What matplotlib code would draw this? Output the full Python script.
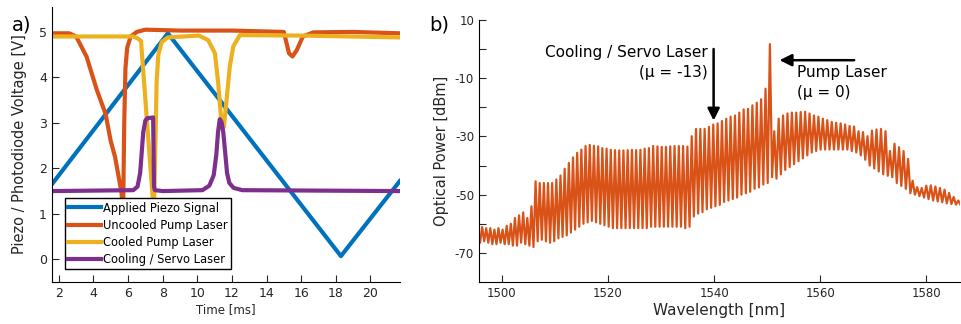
import matplotlib
matplotlib.use('Agg')
import matplotlib.pyplot as plt
import numpy as np

# ---- panel a) traces (time in ms, volts) ----
piezo_t = [1.6, 8.3, 18.3, 21.7]
piezo_v = [1.65, 4.97, 0.07, 1.72]

uncooled_t = [1.6, 2.6, 3.0, 3.6, 4.2, 4.7, 5.0, 5.25, 5.63, 5.69, 5.72, 5.78, 5.85, 5.95,
              6.15, 6.5, 7.0, 9.0, 12.0, 15.0, 15.3, 15.5, 15.75, 16.1, 16.7, 19.0, 21.7]
uncooled_v = [4.97, 4.97, 4.9, 4.46, 3.72, 3.2, 2.6, 2.25, 1.45, 1.0, 1.2, 3.0, 4.2, 4.65,
              4.9, 5.0, 5.05, 5.03, 5.03, 5.0, 4.53, 4.46, 4.6, 4.9, 4.99, 5.0, 4.97]

cooled_t = [1.6, 6.3, 6.55, 6.75, 7.42, 7.5, 7.58, 7.65, 7.75, 7.95, 8.3, 10.1, 10.63,
            11.02, 11.21, 11.4, 11.54, 11.69, 11.88, 12.08, 12.46, 16.0, 21.7]
cooled_v = [4.9, 4.9, 4.86, 4.8, 1.37, 1.2, 2.5, 3.9, 4.5, 4.78, 4.88, 4.92, 4.82,
            4.53, 3.87, 2.99, 2.91, 3.5, 4.24, 4.68, 4.93, 4.92, 4.88]

servo_t = [1.6, 6.3, 6.55, 6.7, 6.8, 6.88, 7.0, 7.1, 7.45, 7.5, 7.55, 8.0, 10.3, 10.7,
           10.95, 11.1, 11.2, 11.3, 11.4, 11.5, 11.6, 11.72, 11.85, 12.1, 12.6, 21.7]
servo_v = [1.5, 1.52, 1.6, 1.9, 2.4, 2.8, 3.05, 3.1, 3.12, 1.6, 1.52, 1.5, 1.52, 1.62,
           1.85, 2.3, 2.8, 3.08, 3.02, 2.8, 2.4, 1.9, 1.68, 1.57, 1.52, 1.5]

trace_labels = ['Applied Piezo Signal', 'Uncooled Pump Laser',
                'Cooled Pump Laser', 'Cooling / Servo Laser']

# ---- panel b) comb spectrum: per-mode peak and floor level (dBm) ----
pump_nm = 1550.5
fsr_thz = 0.103
mu = np.arange(-69, 43)
peak_dbm = [-61, -61.1, -61.5, -61.5, -62, -61.5, -62, -60.7, -60, -58,          # -69..-60
            -57.1, -56.1, -58, -54, -45.4, -46, -46, -46, -46, -44.8,           # -59..-50
            -43.4, -41.1, -39.1, -37.2, -35.6, -34.5, -33.3, -32.9, -33.2, -33.4,  # -49..-40
            -34, -34.2, -34.6, -34.7, -34.8, -34.8, -34.7, -34.6, -34.7, -34.6,  # -39..-30
            -34.2, -34, -33.3, -33.4, -33.6, -33.6, -33.4, -33.3, -33.3, -33.3,  # -29..-20
            -33.5, -29.9, -27.4, -27.4, -27.4, -26.7, -25.9, -25.5, -24.7, -23.9,  # -19..-10
            -23.2, -22.8, -21.8, -20.7, -20.5, -19.3, -18.4, -17.2, -13.6, 1.7,  # -9..0
            -28.2, -23.9, -22.8, -22.1, -21.8, -21.8, -21.6, -21.5, -22.1, -22.8,  # 1..10
            -23.2, -23.9, -24.4, -25, -25.3, -25.5, -25.9, -26.4, -26.6, -28.2,  # 11..20
            -28.5, -29.9, -28, -27.6, -27.4, -28.2, -35, -32.5, -33.7, -35,      # 21..30
            -37.7, -45.2, -47.4, -47.7, -46.9, -46.8, -47.2, -47.7, -48.3, -49.4,  # 31..40
            -50.8, -52]                                                         # 41..42
floor_dbm = [-66.5, -66, -66.5, -67, -67, -66.5, -67, -67, -67.5, -67.5,         # -69..-60
             -66.5, -67, -67.5, -68, -66, -65.5, -66, -66.5, -66, -65,           # -59..-50
             -64.5, -64, -63, -62, -61, -60, -59.5, -59, -59.5, -60,             # -49..-40
             -60.5, -61, -61.5, -61.5, -61.5, -61.5, -61.5, -61.5, -61.5, -61.5,  # -39..-30
             -61.5, -61, -61, -61, -61, -61, -61, -61, -61, -61.5,               # -29..-20
             -61, -57.5, -56.5, -56, -55, -54.5, -54, -53.5, -52.5, -52,         # -19..-10
             -51.5, -51, -50, -49.5, -49, -48, -47.5, -46.5, -46, -44,           # -9..0
             -44.5, -43, -41.5, -40.5, -39.5, -38.5, -37.5, -36.5, -35.5, -35,   # 1..10
             -34.5, -34.5, -34.5, -34.5, -34.5, -34.5, -34.5, -35, -35.5, -36.5,  # 11..20
             -38, -40, -41, -42, -43, -43.5, -44, -46, -47, -48,                 # 21..30
             -49.5, -50, -50.5, -51, -51.5, -52, -52.3, -52.6, -53, -53.2,       # 31..40
             -53.4, -53.5]                                                       # 41..42

c_nm_thz = 299792.458
f_mode = c_nm_thz / pump_nm - fsr_thz * mu
lam = c_nm_thz / f_mode
lam_mid = c_nm_thz / (f_mode - fsr_thz / 2)

spec_x = np.ravel(np.column_stack([lam, lam_mid]))
spec_y = np.ravel(np.column_stack([peak_dbm, floor_dbm]))

blue = '#0072BD'
orange = '#D95319'
yellow = '#EDB120'
purple = '#7E2F8E'

fig = plt.figure(figsize=(9.61, 3.24), dpi=100)
ax1 = fig.add_axes([0.054, 0.1296, 0.362, 0.849])
ax2 = fig.add_axes([0.4984, 0.1296, 0.5005, 0.8086])

# ---- panel a ----
lw = 3.0
ax1.plot(piezo_t, piezo_v, color=blue, lw=lw, label=trace_labels[0])
ax1.plot(uncooled_t, uncooled_v, color=orange, lw=lw, label=trace_labels[1])
ax1.plot(cooled_t, cooled_v, color=yellow, lw=lw, label=trace_labels[2])
ax1.plot(servo_t, servo_v, color=purple, lw=lw, label=trace_labels[3])
ax1.set_xlim(1.6, 21.7)
ax1.set_ylim(-0.5, 5.55)
ax1.set_xticks(np.arange(2, 21, 2))
ax1.set_yticks(np.arange(0, 6, 1))
ax1.tick_params(direction='in', length=5, labelsize=9, colors='#262626')
ax1.set_xlabel('Time [ms]', fontsize=8.5, color='#262626', labelpad=2)
ax1.set_ylabel('Piezo / Photodiode Voltage [V]', fontsize=10.5, color='#262626', labelpad=9)
for s in ['top', 'right']:
    ax1.spines[s].set_visible(False)
leg = ax1.legend(loc='lower left', bbox_to_anchor=(0.037, 0.047), borderaxespad=0,
                 fontsize=8.3, handlelength=2.8, handletextpad=0.2, labelspacing=0.35,
                 borderpad=0.3, fancybox=False, edgecolor='black', framealpha=1)
leg.get_frame().set_linewidth(1.0)
fig.text(0.012, 0.905, 'a)', fontsize=14)

# ---- panel b ----
ax2.plot(spec_x, spec_y, color=orange, lw=1.6)
ax2.set_xlim(1495.7, 1586.3)
ax2.set_ylim(-80, 10)
ax2.set_xticks([1500, 1520, 1540, 1560, 1580])
ax2.set_yticks(np.arange(-70, 11, 10))
ax2.set_yticklabels(['-70', '', '-50', '', '-30', '', '-10', '', '10'])
ax2.tick_params(direction='in', length=5, labelsize=8.5, colors='#262626')
ax2.set_xlabel('Wavelength [nm]', fontsize=11, color='#262626', labelpad=2)
ax2.set_ylabel('Optical Power [dBm]', fontsize=10.5, color='#262626', labelpad=4)
for s in ['top', 'right']:
    ax2.spines[s].set_visible(False)

ax2.annotate('', xy=(1539.9, -25.5), xytext=(1539.9, 1.0),
             arrowprops=dict(arrowstyle='-|>', color='black', lw=1.8, mutation_scale=18))
ax2.text(1538.8, -1.0, 'Cooling / Servo Laser', ha='right', va='center', fontsize=11)
ax2.text(1538.8, -7.9, '(\u03bc = -13)', ha='right', va='center', fontsize=11)
ax2.annotate('', xy=(1551.8, -3.8), xytext=(1566.9, -3.8),
             arrowprops=dict(arrowstyle='-|>', color='black', lw=1.8, mutation_scale=18))
ax2.text(1555.6, -7.9, 'Pump Laser', ha='left', va='center', fontsize=11)
ax2.text(1555.6, -14.8, '(\u03bc = 0)', ha='left', va='center', fontsize=11)
fig.text(0.447, 0.905, 'b)', fontsize=14)

fig.savefig('out.png', dpi=100)
